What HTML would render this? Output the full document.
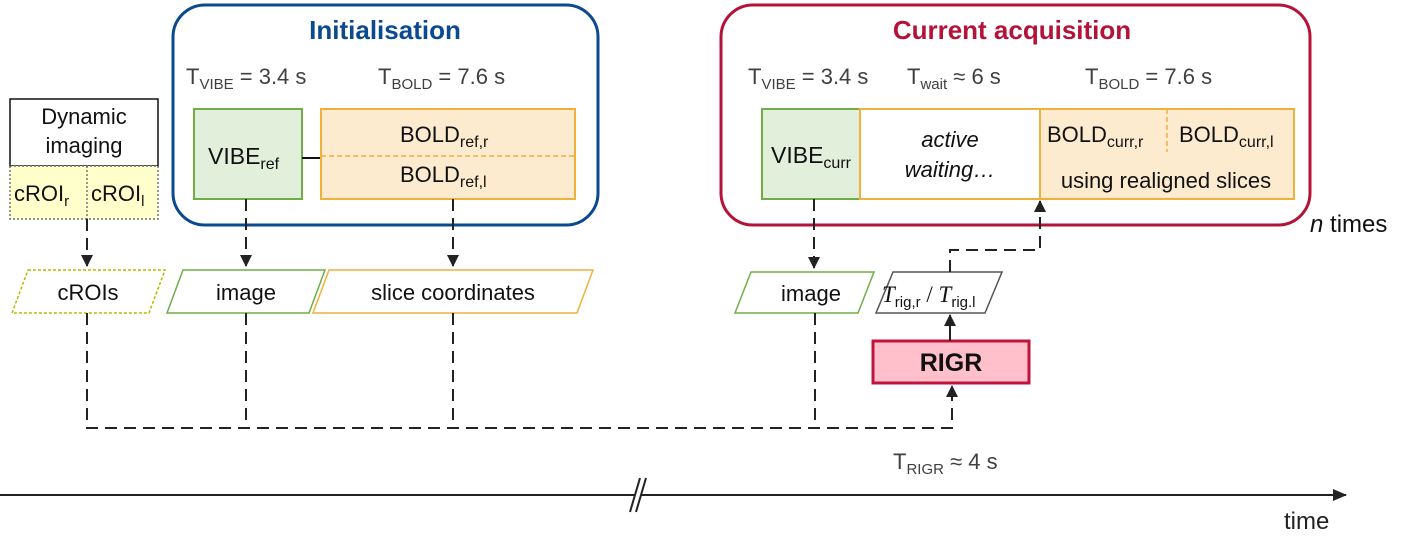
<!DOCTYPE html>
<html><head><meta charset="utf-8"><style>
html,body{margin:0;padding:0;background:#fff;}
svg{display:block;font-family:"Liberation Sans",Arial,sans-serif;}
</style></head><body>
<svg width="1420" height="554" viewBox="0 0 1420 554" xmlns="http://www.w3.org/2000/svg">
<defs>
<marker id="ah" markerWidth="12" markerHeight="12" refX="11" refY="6" orient="auto" markerUnits="userSpaceOnUse">
<path d="M0,0 L12,6 L0,12 z" fill="#222"/></marker>
<marker id="ah2" markerWidth="14" markerHeight="12" refX="13" refY="6" orient="auto" markerUnits="userSpaceOnUse">
<path d="M0,0 L14,6 L0,12 z" fill="#222"/></marker>
</defs>

<!-- Initialisation -->
<rect x="173" y="5" width="425" height="220" rx="32" fill="none" stroke="#0b4a8f" stroke-width="3"/>
<text x="385" y="39" text-anchor="middle" font-size="26" font-weight="bold" fill="#0b4a8f">Initialisation</text>
<text x="186" y="84" font-size="22" fill="#404040">T<tspan font-size="15" dy="5">VIBE</tspan><tspan dy="-5"> = 3.4 s</tspan></text>
<text x="378" y="84" font-size="22" fill="#404040">T<tspan font-size="15" dy="5">BOLD</tspan><tspan dy="-5"> = 7.6  s</tspan></text>
<rect x="194" y="109" width="108" height="90" fill="#e2efda" stroke="#70ad47" stroke-width="2"/>
<text x="208" y="164" font-size="23" fill="#111">VIBE<tspan font-size="16" dy="5">ref</tspan></text>
<line x1="302" y1="158" x2="321" y2="158" stroke="#111" stroke-width="2"/>
<rect x="321" y="109" width="254" height="90" fill="#fdebd0" stroke="#f0b03c" stroke-width="2"/>
<line x1="321" y1="156" x2="575" y2="156" stroke="#f0b03c" stroke-width="1.5" stroke-dasharray="5,3"/>
<text x="400" y="142" font-size="22" fill="#111">BOLD<tspan font-size="16" dy="5">ref,r</tspan></text>
<text x="400" y="182" font-size="22" fill="#111">BOLD<tspan font-size="16" dy="5">ref,l</tspan></text>

<!-- Dynamic imaging -->
<rect x="10" y="99" width="148" height="67" fill="#fff" stroke="#111" stroke-width="1.5"/>
<text x="84" y="124" text-anchor="middle" font-size="22" fill="#111">Dynamic</text>
<text x="84" y="153" text-anchor="middle" font-size="22" fill="#111">imaging</text>
<rect x="10" y="166" width="148" height="53" fill="#ffffcc" stroke="#555" stroke-width="1.2" stroke-dasharray="2,2"/>
<line x1="87" y1="166" x2="87" y2="219" stroke="#555" stroke-width="1.2" stroke-dasharray="2,2"/>
<text x="14" y="201" font-size="22" fill="#111">cROI<tspan font-size="15" dy="5">r</tspan></text>
<text x="91" y="201" font-size="22" fill="#111">cROI<tspan font-size="15" dy="5">l</tspan></text>

<!-- Current acquisition -->
<rect x="721" y="5" width="589" height="220" rx="32" fill="none" stroke="#b5123a" stroke-width="3"/>
<text x="1012" y="39" text-anchor="middle" font-size="26" font-weight="bold" fill="#b5123a">Current acquisition</text>
<text x="748" y="84" font-size="22" fill="#404040">T<tspan font-size="15" dy="5">VIBE</tspan><tspan dy="-5"> = 3.4 s</tspan></text>
<text x="907" y="84" font-size="22" fill="#404040">T<tspan font-size="15" dy="5">wait</tspan><tspan dy="-5"> ≈ 6  s</tspan></text>
<text x="1085" y="84" font-size="22" fill="#404040">T<tspan font-size="15" dy="5">BOLD</tspan><tspan dy="-5"> = 7.6  s</tspan></text>
<rect x="762" y="109" width="98" height="90" fill="#e2efda" stroke="#70ad47" stroke-width="2"/>
<text x="771" y="163" font-size="23" fill="#111">VIBE<tspan font-size="16" dy="5">curr</tspan></text>
<rect x="860" y="109" width="180" height="90" fill="#fff" stroke="#f0b03c" stroke-width="2"/>
<text x="950" y="147" text-anchor="middle" font-size="22" font-style="italic" fill="#111">active</text>
<text x="950" y="177" text-anchor="middle" font-size="22" font-style="italic" fill="#111">waiting…</text>
<rect x="1040" y="109" width="254" height="90" fill="#fdebd0" stroke="#f0b03c" stroke-width="2"/>
<line x1="1167" y1="109" x2="1167" y2="152" stroke="#f0b03c" stroke-width="1.5" stroke-dasharray="5,3"/>
<text x="1047" y="142" font-size="22" fill="#111">BOLD<tspan font-size="16" dy="5">curr,r</tspan></text>
<text x="1179" y="142" font-size="22" fill="#111">BOLD<tspan font-size="16" dy="5">curr,l</tspan></text>
<text x="1166" y="188" text-anchor="middle" font-size="22" fill="#111">using realigned slices</text>
<text x="1310" y="232" font-size="24" fill="#111"><tspan font-style="italic">n</tspan> times</text>

<!-- parallelograms -->
<polygon points="28,270 165,270 149,313 12,313" fill="#fff" stroke="#b8b800" stroke-width="1.5" stroke-dasharray="3,2"/>
<text x="88" y="300" text-anchor="middle" font-size="22" fill="#111">cROIs</text>
<polygon points="183,270 325,270 309,313 167,313" fill="#fff" stroke="#70ad47" stroke-width="1.5"/>
<text x="246" y="300" text-anchor="middle" font-size="22" fill="#111">image</text>
<polygon points="329,270 593,270 577,313 313,313" fill="#fff" stroke="#f0b03c" stroke-width="1.5"/>
<text x="453" y="300" text-anchor="middle" font-size="22" fill="#111">slice coordinates</text>
<polygon points="751,272 874,272 858,313 735,313" fill="#fff" stroke="#70ad47" stroke-width="1.5"/>
<text x="811" y="301" text-anchor="middle" font-size="22" fill="#111">image</text>
<polygon points="893,272 1002,272 985,313 876,313" fill="#fff" stroke="#555" stroke-width="1.5"/>
<text x="882" y="302" font-size="23" fill="#111" font-family="Liberation Serif,serif" font-style="italic">T<tspan font-family="Liberation Sans,sans-serif" font-style="normal" font-size="15" dy="5">rig,r</tspan><tspan dy="-5" font-style="normal"> / </tspan>T<tspan font-family="Liberation Sans,sans-serif" font-style="normal" font-size="15" dy="5">rig.l</tspan></text>

<!-- RIGR -->
<rect x="873" y="341" width="156" height="42" fill="#ffc0cb" stroke="#c0143c" stroke-width="3"/>
<text x="951" y="371" text-anchor="middle" font-size="25" font-weight="bold" fill="#111">RIGR</text>
<text x="893" y="469" font-size="22" fill="#404040">T<tspan font-size="15" dy="5">RIGR</tspan><tspan dy="-5"> ≈ 4  s</tspan></text>

<!-- connectors -->
<g stroke="#222" stroke-width="2" fill="none">
<line x1="87" y1="219" x2="87" y2="266" stroke-dasharray="12,7" marker-end="url(#ah)"/>
<line x1="246" y1="199" x2="246" y2="266" stroke-dasharray="12,7" marker-end="url(#ah)"/>
<line x1="453" y1="199" x2="453" y2="266" stroke-dasharray="12,7" marker-end="url(#ah)"/>
<line x1="814" y1="199" x2="814" y2="268" stroke-dasharray="12,7" marker-end="url(#ah)"/>
<path d="M87,313 V428 H952 V386" stroke-dasharray="12,7" marker-end="url(#ah)"/>
<line x1="246" y1="313" x2="246" y2="428" stroke-dasharray="12,7"/>
<line x1="453" y1="313" x2="453" y2="428" stroke-dasharray="12,7"/>
<line x1="815" y1="313" x2="815" y2="428" stroke-dasharray="12,7"/>
<line x1="950" y1="341" x2="950" y2="315" marker-end="url(#ah)"/>
<path d="M950,272 V250 H1040 V201" stroke-dasharray="12,7" marker-end="url(#ah)"/>
</g>

<!-- timeline -->
<line x1="0" y1="495" x2="1346" y2="495" stroke="#222" stroke-width="2" marker-end="url(#ah2)"/>
<rect x="628" y="476" width="16" height="38" fill="#fff"/>
<line x1="630" y1="512" x2="640" y2="478" stroke="#222" stroke-width="2"/>
<line x1="636" y1="512" x2="646" y2="478" stroke="#222" stroke-width="2"/>
<line x1="625" y1="495" x2="635" y2="495" stroke="#222" stroke-width="2"/>
<line x1="641" y1="495" x2="650" y2="495" stroke="#222" stroke-width="2"/>
<text x="1284" y="529" font-size="24" fill="#222">time</text>
</svg>
</body></html>
